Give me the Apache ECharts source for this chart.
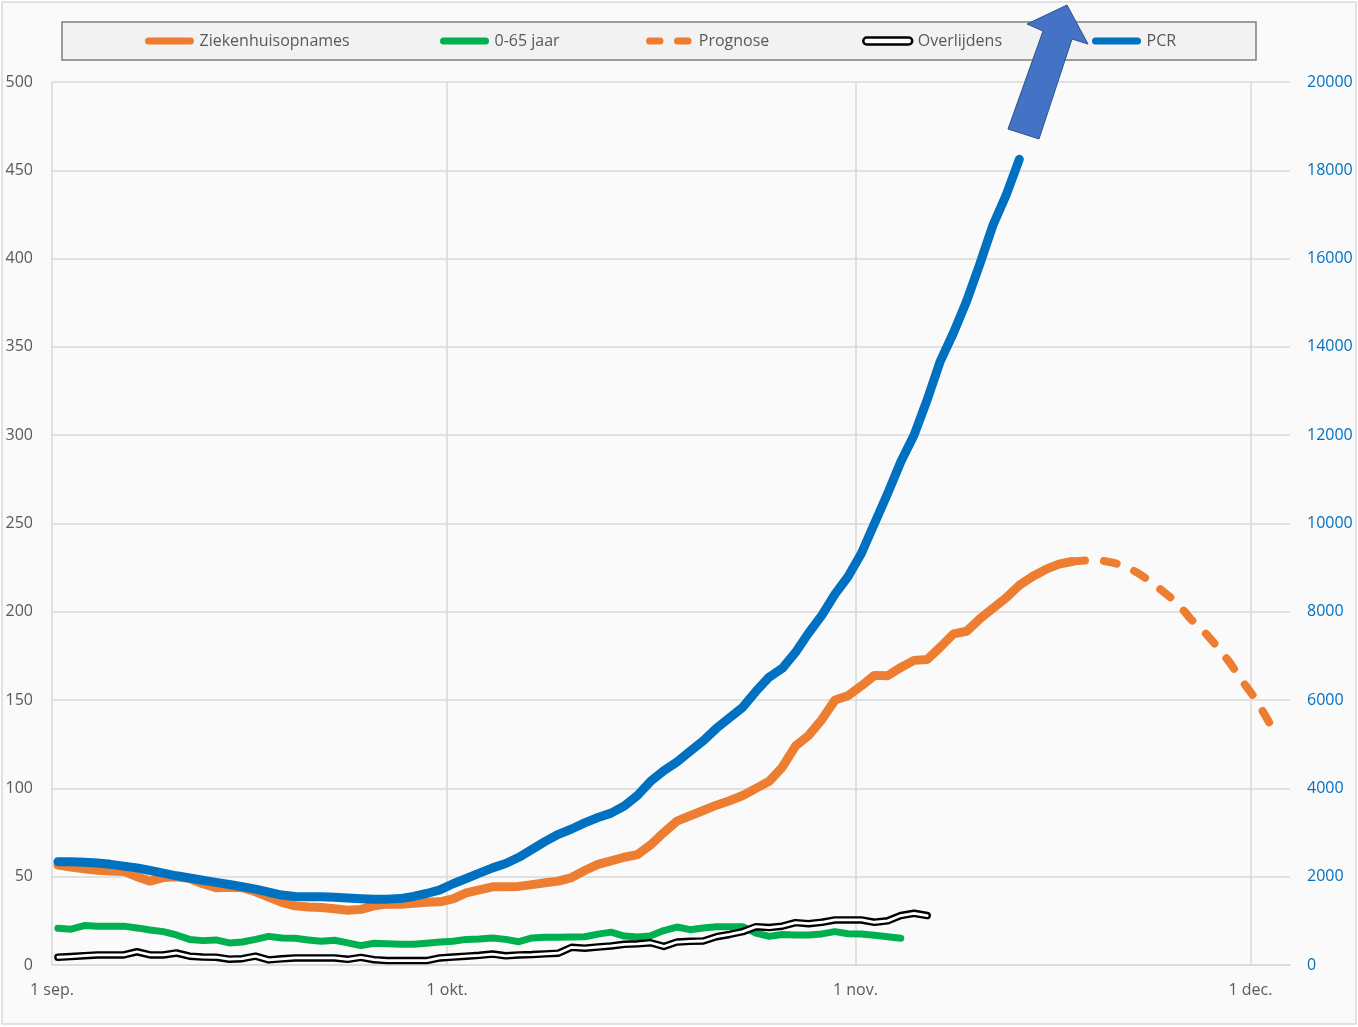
<!DOCTYPE html>
<html>
<head>
<meta charset="utf-8">
<script src="https://cdn.jsdelivr.net/npm/echarts@6/dist/echarts.min.js"></script>
<style>
  html, body { margin: 0; padding: 0; background: #ffffff; }
  #main { width: 1358px; height: 1027px; }
</style>
</head>
<body>
<div id="main"></div>
<script>
// x-as: dagen vanaf 1 september
var maanden = ['sep.', 'okt.', 'nov.', 'dec.'];
var maandLengte = [30, 31, 30, 31];
var aantalDagen = 95;

// Ziekenhuisopnames (linker as), per dag vanaf 1 sep.
var ziekenhuis = [56.6, 55.5, 54.5, 53.6, 53.2, 53, 50, 47.5, 49.5, 50,
  49, 46, 43.8, 44, 43.8, 41.5, 38.5, 35.5, 33.5, 32.8,
  32.5, 31.8, 31, 31.5, 33.5, 34.5, 34.4, 35, 35.5, 35.8,
  37.5, 40.8, 42.5, 44.3, 44.3, 44.5, 45.5, 46.6, 47.5, 49.5,
  53.5, 57, 59, 61, 62.5, 68, 75, 81.5, 84.5, 87.5,
  90.5, 93, 96, 100, 104, 112, 124, 130, 139, 150,
  152.5, 158, 164, 163.8, 168.5, 172.5, 173, 180, 187.5, 189,
  196, 202, 208, 215, 220, 224, 227, 228.5];

// Prognose (gestippeld), begint op dag 77
var prognoseStart = 77;
var prognose = [228.5, 229, 229.3, 228, 226, 222, 217, 211, 205, 196,
  189, 180.5, 171, 160, 150, 137];

// 0-65 jaar
var jong = [20.8, 20.3, 22.3, 22, 22, 22, 21, 19.8, 18.9, 17,
  14.5, 13.8, 14.2, 12.5, 13, 14.5, 16.2, 15.3, 15.1, 14.2,
  13.4, 14, 12.5, 11, 12.3, 12, 11.7, 11.7, 12.3, 13,
  13.5, 14.5, 14.7, 15.3, 14.5, 13.2, 15.3, 15.7, 15.7, 15.8,
  16, 17.5, 18.6, 16.4, 15.8, 16.5, 19.5, 21.5, 20, 21,
  21.7, 21.7, 21.7, 18, 16.2, 17.3, 17, 17, 17.6, 18.9,
  17.7, 17.5, 16.8, 16, 15.2];

// Overlijdens
var overlijdens = [4.4, 4.8, 5.3, 5.7, 5.7, 5.7, 7.5, 5.7, 5.7, 6.8,
  5, 4.5, 4.4, 3.3, 3.6, 5, 2.9, 3.5, 4, 4,
  4, 4, 3.2, 4.3, 3, 2.5, 2.5, 2.5, 2.5, 4,
  4.5, 5, 5.5, 6.2, 5.2, 5.7, 5.9, 6.3, 6.7, 10,
  9.5, 10.2, 10.8, 11.7, 12, 12.6, 10.5, 13, 13.4, 13.6,
  16, 17.3, 18.9, 21.7, 21.2, 22, 24, 23.4, 24.2, 25.5,
  25.5, 25.5, 24.2, 25, 28, 29.3, 28];

// PCR (rechter as)
var pcr = [2340, 2340, 2328, 2312, 2280, 2240, 2200, 2140, 2080, 2020,
  1972, 1920, 1872, 1824, 1772, 1720, 1648, 1584, 1552, 1548,
  1548, 1536, 1516, 1500, 1488, 1492, 1504, 1552, 1620, 1700,
  1840, 1960, 2080, 2200, 2300, 2440, 2620, 2800, 2960, 3080,
  3220, 3340, 3440, 3600, 3840, 4160, 4400, 4600, 4840, 5080,
  5360, 5600, 5840, 6200, 6520, 6720, 7080, 7520, 7920, 8400,
  8800, 9320, 10000, 10680, 11400, 12000, 12800, 13680, 14320, 15040,
  15880, 16760, 17440, 18250];

var datums = [];
for (var m = 0; m < maanden.length; m++) {
  for (var d = 1; d <= maandLengte[m]; d++) {
    if (datums.length < aantalDagen) datums.push(d + ' ' + maanden[m]);
  }
}

function perDag(reeks, start) {
  return reeks.map(function (v, i) { return [(start || 0) + i, v]; });
}

function eersteVanMaand(index, value) {
  return String(value).split(' ')[0] === '1';
}

var grijs = '#595959';
var lettertype = 'Open Sans';

function legendaItem(left, naam, icoon, stijl) {
  return {
    left: left, top: 33, padding: 0, selectedMode: false,
    itemWidth: 56, itemHeight: 7, itemGap: 0,
    textStyle: { color: grijs, fontSize: 16, fontFamily: lettertype, padding: [0, 0, 0, -3] },
    data: [{ name: naam, icon: icoon, itemStyle: stijl }]
  };
}

var capsule = 'path://M4,0h48a4,4 0 0 1 0,8h-48a4,4 0 0 1 0,-8z';
var streepjes = 'path://M4,0h12a4,4 0 0 1 0,8h-12a4,4 0 0 1 0,-8z M36,0h12a4,4 0 0 1 0,8h-12a4,4 0 0 1 0,-8z';

var myChart = echarts.init(document.getElementById('main'));

var option = {
  backgroundColor: '#ffffff',
  animation: false,
  graphic: [
    { type: 'rect', z: -10, shape: { x: 2, y: 2, width: 1354, height: 1022 },
      style: { fill: '#fafafa', stroke: '#d9d9d9', lineWidth: 1.5 } },
    { type: 'rect', z: 1, shape: { x: 62, y: 22, width: 1194, height: 38 },
      style: { fill: '#f2f2f2', stroke: '#7f7f7f', lineWidth: 1.5 } },
    { type: 'polygon', z: 100,
      shape: { points: [[1067, 5], [1088, 44], [1072, 39], [1039, 139], [1008, 129], [1043, 31], [1027, 24]] },
      style: { fill: '#4472c4', stroke: '#2f528f', lineWidth: 1 } }
  ],
  legend: [
    legendaItem(145, 'Ziekenhuisopnames', capsule, { color: '#ed7d31' }),
    legendaItem(440, '0-65 jaar', capsule, { color: '#00b050' }),
    legendaItem(646, 'Prognose', streepjes, { color: '#ed7d31' }),
    legendaItem(862, 'Overlijdens', capsule, { color: '#ffffff', borderColor: '#000000', borderWidth: 2.5 }),
    legendaItem(1092, 'PCR', capsule, { color: '#0070c0' })
  ],
  grid: { left: 52, right: 68, top: 82, bottom: 62, containLabel: false },
  xAxis: [
    {
      type: 'category',
      data: datums,
      boundaryGap: false,
      axisLine: { show: true, lineStyle: { color: '#d9d9d9', width: 1.5 } },
      axisTick: { show: false },
      axisLabel: { interval: eersteVanMaand, color: grijs, fontSize: 16, fontFamily: lettertype, margin: 17 },
      splitLine: { show: true, interval: eersteVanMaand, lineStyle: { color: '#d9d9d9', width: 1.5 } }
    },
    {
      // meetpunten liggen iets rechts van de datumlijnen
      type: 'value', min: -0.45, max: 93.55, show: false
    }
  ],
  yAxis: [
    {
      type: 'value', min: 0, max: 500, interval: 50,
      axisLine: { show: false }, axisTick: { show: false },
      axisLabel: { color: grijs, fontSize: 16, fontFamily: lettertype, margin: 19 },
      splitLine: { lineStyle: { color: '#d9d9d9', width: 1.5 } }
    },
    {
      type: 'value', min: 0, max: 20000, interval: 2000,
      axisLine: { show: false }, axisTick: { show: false },
      axisLabel: { color: '#0070c0', fontSize: 16, fontFamily: lettertype, margin: 17,
        formatter: function (v) { return String(v); } },
      splitLine: { show: false }
    }
  ],
  series: [
    { name: '0-65 jaar', type: 'line', xAxisIndex: 1, data: perDag(jong), showSymbol: false, z: 2,
      lineStyle: { color: '#00b050', width: 7, cap: 'round', join: 'round' }, itemStyle: { color: '#00b050' } },
    { name: 'Overlijdens', type: 'line', xAxisIndex: 1, data: perDag(overlijdens), showSymbol: false, z: 3,
      lineStyle: { color: '#000000', width: 7.5, cap: 'round', join: 'round' }, itemStyle: { color: '#000000' } },
    { name: 'Overlijdens_binnen', type: 'line', xAxisIndex: 1, data: perDag(overlijdens), showSymbol: false, z: 4,
      lineStyle: { color: '#ffffff', width: 2.8, cap: 'round', join: 'round' } },
    { name: 'Ziekenhuisopnames', type: 'line', xAxisIndex: 1, data: perDag(ziekenhuis), showSymbol: false, z: 5,
      lineStyle: { color: '#ed7d31', width: 9, cap: 'round', join: 'round' }, itemStyle: { color: '#ed7d31' } },
    { name: 'Prognose', type: 'line', xAxisIndex: 1, data: perDag(prognose, prognoseStart), showSymbol: false, z: 5,
      lineStyle: { color: '#ed7d31', width: 8, type: [13, 19], cap: 'round', join: 'round' }, itemStyle: { color: '#ed7d31' } },
    { name: 'PCR', type: 'line', xAxisIndex: 1, yAxisIndex: 1, data: perDag(pcr), showSymbol: false, z: 6,
      lineStyle: { color: '#0070c0', width: 9, cap: 'round', join: 'round' }, itemStyle: { color: '#0070c0' } }
  ]
};
myChart.setOption(option);
</script>
</body>
</html>
